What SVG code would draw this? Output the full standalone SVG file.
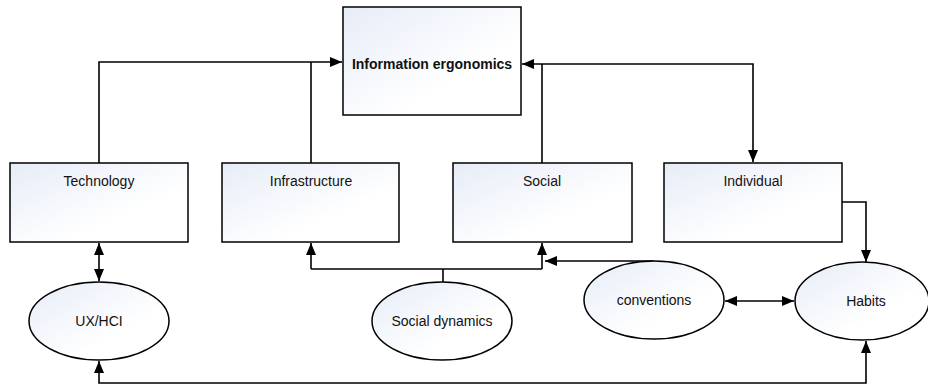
<svg xmlns="http://www.w3.org/2000/svg" width="928" height="385" viewBox="0 0 928 385">
<style>
.box{fill:url(#g);stroke:#000;stroke-width:1.5}
.lbl{font-family:"Liberation Sans",Arial,sans-serif;font-size:14px;fill:#111;text-anchor:middle}
.b{font-weight:bold}
.c{fill:none;stroke:#000;stroke-width:1.6}
</style>
<defs>
<linearGradient id="g" x1="0" y1="0" x2="1" y2="1">
<stop offset="0" stop-color="#e6ecf7"/>
<stop offset="0.65" stop-color="#ffffff"/>
</linearGradient>
<marker id="a" viewBox="0 0 12 10" refX="12" refY="5" markerWidth="12" markerHeight="10" markerUnits="userSpaceOnUse" orient="auto-start-reverse">
<path d="M0,0 L12,5 L0,10 Z" fill="#000"/>
</marker>
</defs>
<g id="connectors">
<path class="c" d="M99,163 V62 H342" marker-end="url(#a)"/>
<path class="c" d="M311,163 V62"/>
<path class="c" d="M542,163 V64"/>
<path class="c" d="M522,64 H753 V162" marker-start="url(#a)" marker-end="url(#a)"/>
<path class="c" d="M99,243 V281" marker-start="url(#a)" marker-end="url(#a)"/>
<path class="c" d="M443,282 V269"/>
<path class="c" d="M311,269 H542"/>
<path class="c" d="M311,269 V243" marker-end="url(#a)"/>
<path class="c" d="M542,269 V243" marker-end="url(#a)"/>
<path class="c" d="M654,261 H545" marker-end="url(#a)"/>
<path class="c" d="M842,202 H866 V262" marker-end="url(#a)"/>
<path class="c" d="M725,301 H794" marker-start="url(#a)" marker-end="url(#a)"/>
<path class="c" d="M866,341 V383 H99 V361" marker-start="url(#a)" marker-end="url(#a)"/>
</g>
<g id="info"><rect class="box" x="343" y="7" width="178" height="108"/><text class="lbl b" x="432" y="69">Information ergonomics</text></g>
<g id="technology"><rect class="box" x="10" y="163" width="178" height="79"/><text class="lbl" x="99" y="186">Technology</text></g>
<g id="infrastructure"><rect class="box" x="222" y="163" width="177" height="79"/><text class="lbl" x="311" y="186">Infrastructure</text></g>
<g id="social"><rect class="box" x="453" y="163" width="179" height="79"/><text class="lbl" x="542" y="186">Social</text></g>
<g id="individual"><rect class="box" x="664" y="163" width="178" height="79"/><text class="lbl" x="753" y="186">Individual</text></g>
<g id="uxhci"><ellipse class="box" cx="99" cy="321" rx="70" ry="39"/><text class="lbl" x="99" y="326">UX/HCI</text></g>
<g id="socialdynamics"><ellipse class="box" cx="442" cy="321" rx="70" ry="39"/><text class="lbl" x="442" y="326">Social dynamics</text></g>
<g id="conventions"><ellipse class="box" cx="654" cy="300" rx="70" ry="39"/><text class="lbl" x="654" y="305">conventions</text></g>
<g id="habits"><ellipse class="box" cx="862" cy="301" rx="67" ry="39"/><text class="lbl" x="866" y="306">Habits</text></g>
</svg>
